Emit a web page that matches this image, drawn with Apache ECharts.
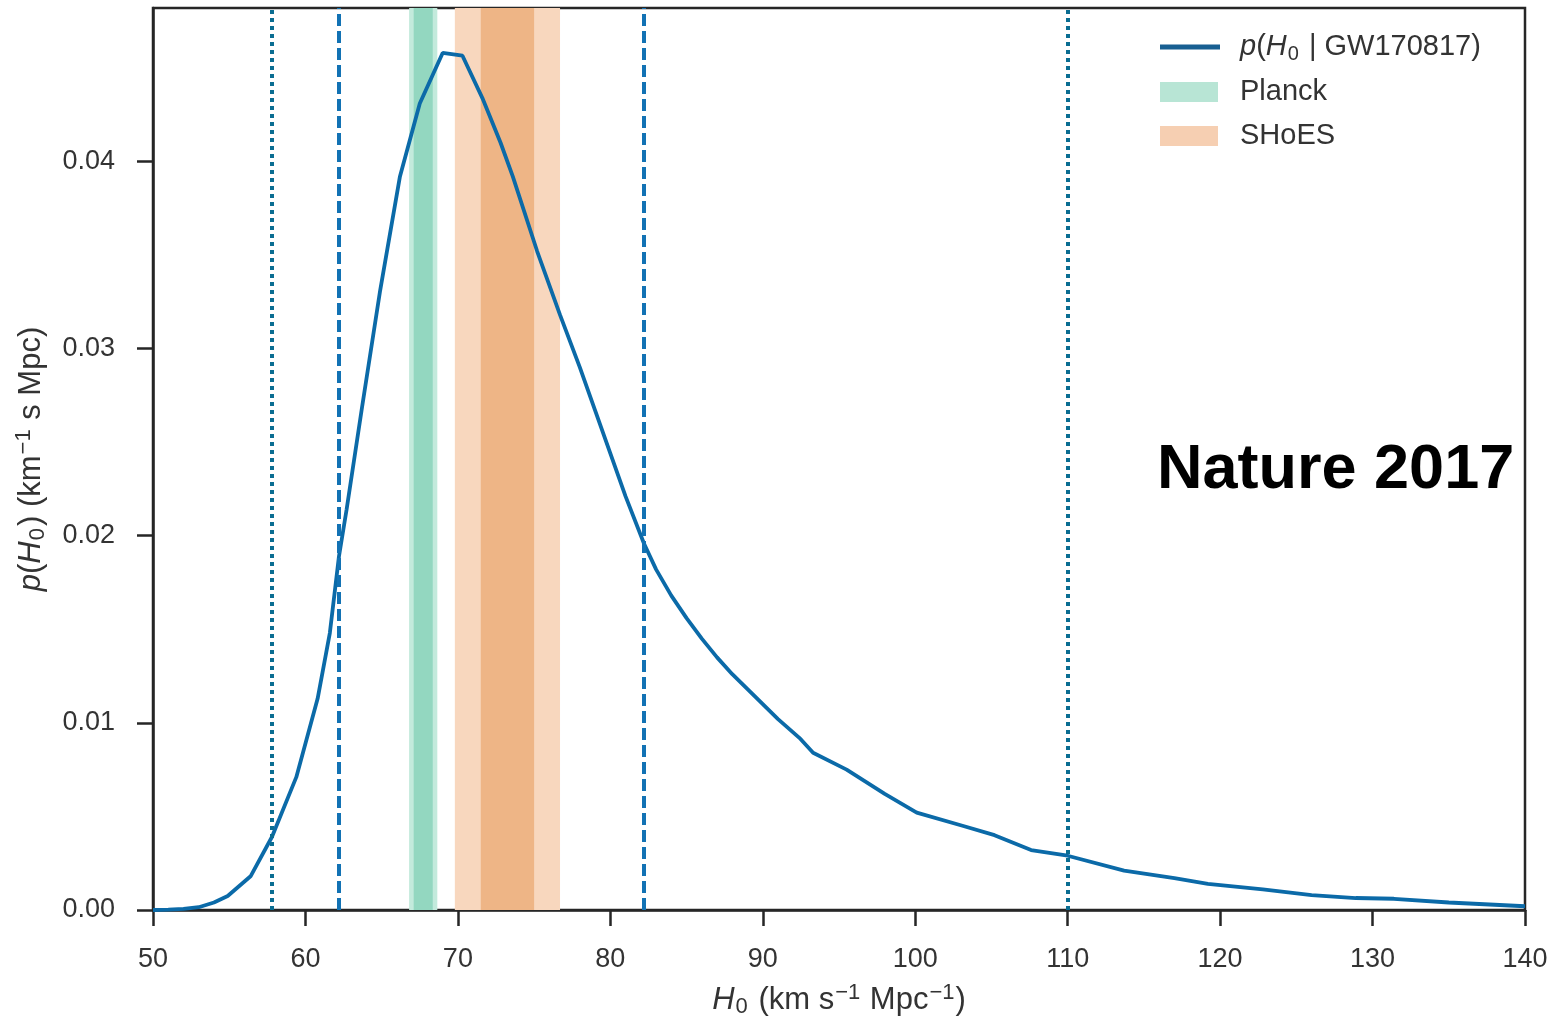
<!DOCTYPE html>
<html>
<head>
<meta charset="utf-8">
<script src="https://cdn.jsdelivr.net/npm/echarts@6/dist/echarts.min.js"></script>
<style>
  html, body { margin: 0; padding: 0; background: #fff; }
  #chart { width: 1554px; height: 1023px; }
</style>
</head>
<body>
<div id="chart"></div>
<script>
// posterior p(H0 | GW170817)
const h0 = [50, 51, 52, 53, 54, 54.9, 56.4, 57.8, 59.4, 60.8, 61.6, 62.2, 62.7, 63.7, 64.9, 66.2, 67.5, 69.0, 70.3,
  71.6, 72.8, 73.6, 75.2, 76.7, 78.0, 79.0, 80.0, 81.0, 82.2, 83.0, 84.0, 85.0, 86.0, 87.0, 88.0, 89.0, 90.0, 91.0, 92.4, 93.3,
  95.5, 98.0, 100.1, 103.1, 105.2, 107.6, 110.0, 113.7, 117.0, 119.2, 122.8, 126.0, 128.9, 131.4, 135.0, 140.0]
const density = [0, 0.00002, 0.00006, 0.00015, 0.0004, 0.00075, 0.0018, 0.0039, 0.0071, 0.0113, 0.0148, 0.0189, 0.0214, 0.0268, 0.0331, 0.0392, 0.0431, 0.0458, 0.04565,
  0.0434, 0.0410, 0.0392, 0.0352, 0.0318, 0.0290, 0.0267, 0.0244, 0.0221, 0.0196, 0.0182, 0.0168, 0.0156, 0.0145, 0.0135, 0.0126, 0.0118, 0.0110, 0.0102, 0.0092, 0.0084,
  0.0075, 0.0062, 0.0052, 0.0045, 0.0040, 0.0032, 0.0029, 0.0021, 0.0017, 0.0014, 0.0011, 0.0008, 0.00064, 0.0006, 0.0004, 0.0002]

const hpd68 = [62.2, 82.2]     // dashed
const hpd95 = [57.8, 110.0]    // dotted
const planck1 = [67.1, 68.35]
const planck2 = [66.8, 68.65]
const shoes1 = [71.5, 75.0]
const shoes2 = [69.8, 76.7]

const xTicks = [50, 60, 70, 80, 90, 100, 110, 120, 130, 140]
const yTicks = [0, 0.01, 0.02, 0.03, 0.04]

const blue = '#0b6aa8'
const green1 = '#93d7c0', green2 = '#c3eadc'
const orange1 = '#eeb586', orange2 = '#f8d7be'
const frame = '#262626'
const ink = '#333'
const font = 'Liberation Sans, Arial, sans-serif'

const chart = echarts.init(document.getElementById('chart'))

const bandArea = (range, color) => [{ xAxis: range[0], itemStyle: { color: color } }, { xAxis: range[1] }]
const vline = (x, type, color) => ({ xAxis: x, lineStyle: { type: type, color: color, width: 4 } })

// rich styles for italic / sub / superscripts
const richText = size => ({
  i: { fontSize: size, fontStyle: 'italic', color: ink, fill: ink, fontFamily: font },
  sub: { fontSize: Math.round(size * 0.7), color: ink, fill: ink, fontFamily: font, verticalAlign: 'bottom', padding: [0, 2, 0, 1] },
  sup: { fontSize: Math.round(size * 0.7), color: ink, fill: ink, fontFamily: font, verticalAlign: 'top', padding: [0, 1, 0, 1] }
})

const option = {
  animation: false,
  backgroundColor: '#fff',
  grid: {
    left: 153, right: 29, top: 8, bottom: 112,
    show: true,
    borderColor: frame,
    borderWidth: 2.5
  },
  xAxis: {
    type: 'value',
    min: 50,
    max: 140,
    interval: 10,
    splitLine: { show: false },
    axisLine: { show: true, lineStyle: { color: frame, width: 2.5 } },
    axisTick: { show: true, inside: false, length: 16, lineStyle: { color: frame, width: 2.5 } },
    axisLabel: {
      margin: 36, fontSize: 27, color: ink, fontFamily: font,
      customValues: xTicks
    },
    name: '{i|H}{sub|0} (km s{sup|−1} Mpc{sup|−1})',
    nameLocation: 'middle',
    nameGap: 72,
    nameTextStyle: {
      fontSize: 31, color: ink, fontFamily: font, lineHeight: 36,
      rich: richText(31)
    }
  },
  yAxis: {
    type: 'value',
    min: 0,
    max: 0.0482,
    splitLine: { show: false },
    axisLine: { show: true, lineStyle: { color: frame, width: 2.5 } },
    axisTick: { show: true, inside: false, length: 16, lineStyle: { color: frame, width: 2.5 }, customValues: yTicks },
    axisLabel: {
      margin: 38, fontSize: 27, color: ink, fontFamily: font,
      customValues: yTicks,
      formatter: v => v.toFixed(2)
    },
    name: '{i|p}({i|H}{sub|0}) (km{sup|−1} s Mpc)',
    nameLocation: 'middle',
    nameRotate: 90,
    nameGap: 104,
    nameTextStyle: {
      fontSize: 31, color: ink, fontFamily: font, lineHeight: 36,
      rich: richText(31)
    }
  },
  series: [
    {
      name: 'bands',
      type: 'line',
      data: [],
      silent: true,
      z: 1,
      markArea: {
        silent: true,
        data: [
          bandArea(planck2, green2),
          bandArea(planck1, green1),
          bandArea(shoes2, orange2),
          bandArea(shoes1, orange1)
        ]
      }
    },
    {
      name: 'p(H0 | GW170817)',
      type: 'line',
      data: h0.map((x, i) => [x, density[i]]),
      showSymbol: false,
      smooth: false,
      z: 3,
      lineStyle: { color: blue, width: 3.8 },
      markLine: {
        silent: true,
        symbol: 'none',
        label: { show: false },
        data: [
          vline(hpd95[0], [4, 4], '#0a6d92'),
          vline(hpd95[1], [4, 4], '#0a6d92'),
          vline(hpd68[0], [12, 5], '#1272b4'),
          vline(hpd68[1], [12, 5], '#1272b4')
        ]
      }
    }
  ],
  graphic: [
    { type: 'line', shape: { x1: 1160, y1: 47, x2: 1220, y2: 47 }, style: { stroke: '#185f92', lineWidth: 5 } },
    {
      type: 'text', x: 1240, y: 47,
      style: {
        text: '{i|p}({i|H}{sub|0} | GW170817)', verticalAlign: 'middle', fill: ink,
        font: '29px ' + font, lineHeight: 34,
        rich: richText(29)
      }
    },
    { type: 'rect', shape: { x: 1160, y: 82, width: 58, height: 20 }, style: { fill: '#b8e5d5' } },
    { type: 'text', x: 1240, y: 92, style: { text: 'Planck', verticalAlign: 'middle', fill: ink, font: '29px ' + font } },
    { type: 'rect', shape: { x: 1160, y: 126, width: 58, height: 20 }, style: { fill: '#f6cfb2' } },
    { type: 'text', x: 1240, y: 136, style: { text: 'SHoES', verticalAlign: 'middle', fill: ink, font: '29px ' + font } },
    { type: 'text', x: 1157, y: 471, style: { text: 'Nature 2017', verticalAlign: 'middle', fill: '#000', font: 'bold 63px ' + font } }
  ]
}

chart.setOption(option)
</script>
</body>
</html>
